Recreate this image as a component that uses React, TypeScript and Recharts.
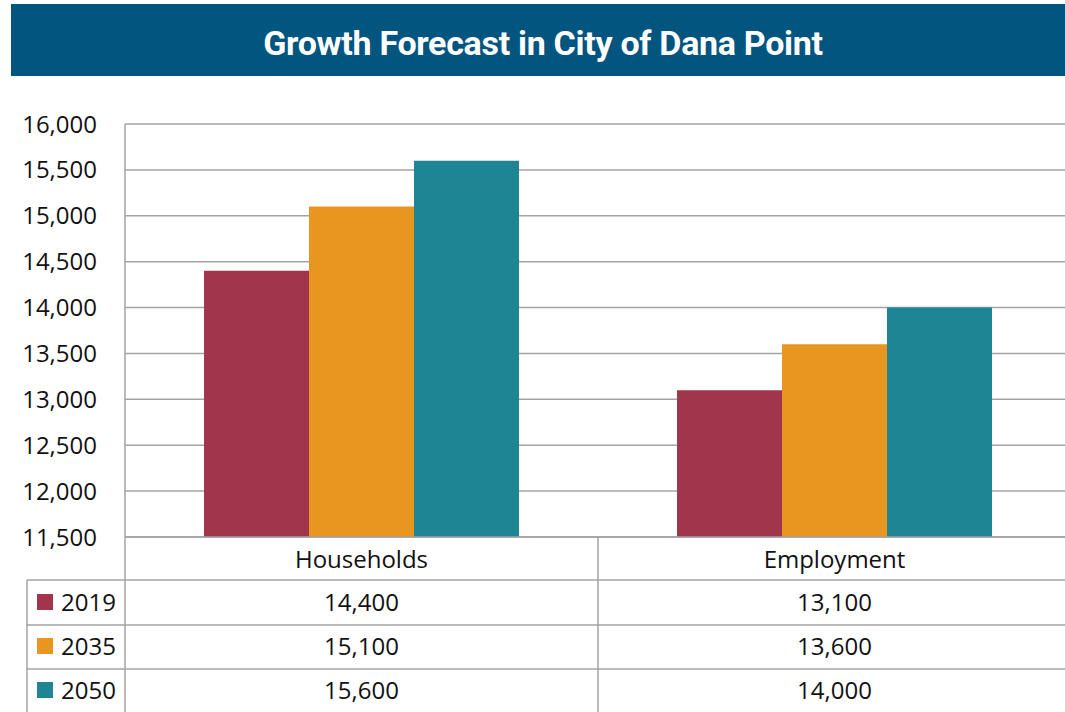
import { BarChart, Bar, XAxis, YAxis, CartesianGrid } from "recharts";

const categories = ["Households", "Employment"];
const years = ["2019", "2035", "2050"];
const values2019 = [14400, 13100];
const values2035 = [15100, 13600];
const values2050 = [15600, 14000];
const yTicks = [11500, 12000, 12500, 13000, 13500, 14000, 14500, 15000, 15500, 16000];

const colors = ["#a1354c", "#e8961f", "#1e8595"];
const seriesValues = [values2019, values2035, values2050];

const data = categories.map((name, i) => ({
  name,
  y2019: values2019[i],
  y2035: values2035[i],
  y2050: values2050[i],
}));

const CHART_W = 1071;
const CHART_H = 712;
const PLOT_LEFT = 125;
const PLOT_TOP = 124;
const PLOT_BOTTOM = 537;
const COL_W = (CHART_W - PLOT_LEFT) / categories.length;
const ROW_LINES = [580, 625, 669];
const ROW_CENTERS = [602, 646, 690];
const LINE = "#a3a3a3";
const FONT = "'Open Sans', sans-serif";

const fmt = (v: number) => v.toLocaleString("en-US");

function TableTick(props: any) {
  const { x, index, payload } = props;
  const left = x - COL_W / 2;
  const right = x + COL_W / 2;
  return (
    <g>
      {index === 0 && (
        <g>
          <line x1={PLOT_LEFT} y1={PLOT_BOTTOM} x2={PLOT_LEFT} y2={CHART_H} stroke={LINE} strokeWidth={1.5} />
          <line x1={27} y1={ROW_LINES[0]} x2={27} y2={CHART_H} stroke={LINE} strokeWidth={1.5} />
          {ROW_LINES.map((y) => (
            <line key={y} x1={27} y1={y} x2={PLOT_LEFT} y2={y} stroke={LINE} strokeWidth={1.5} />
          ))}
          {years.map((yr, r) => (
            <g key={yr}>
              <rect x={37} y={ROW_CENTERS[r] - 8} width={16} height={16} fill={colors[r]} />
              <text x={61} y={ROW_CENTERS[r] + 8.5} fontSize={24} fontFamily={FONT} fill="#111">
                {yr}
              </text>
            </g>
          ))}
        </g>
      )}
      <line x1={right} y1={PLOT_BOTTOM} x2={right} y2={CHART_H} stroke={LINE} strokeWidth={1.5} />
      {ROW_LINES.map((y) => (
        <line key={y} x1={left} y1={y} x2={right} y2={y} stroke={LINE} strokeWidth={1.5} />
      ))}
      <text x={x} y={559 + 8.5} textAnchor="middle" fontSize={24} fontFamily={FONT} fill="#111">
        {payload.value}
      </text>
      {seriesValues.map((vals, r) => (
        <text key={r} x={x} y={ROW_CENTERS[r] + 8.5} textAnchor="middle" fontSize={24} fontFamily={FONT} fill="#111">
          {fmt(vals[index])}
        </text>
      ))}
    </g>
  );
}

export default function App() {
  return (
    <div style={{ position: "absolute", left: 0, top: 0, width: 1065, height: 712, overflow: "hidden", background: "#fff" }}>
      <div
        style={{
          position: "absolute",
          left: 11,
          top: 4,
          width: 1054,
          height: 72,
          background: "#02557f",
          color: "#fff",
          fontFamily: "Roboto, sans-serif",
          fontWeight: 700,
          fontSize: 34,
          letterSpacing: -0.3,
          lineHeight: "72px",
          textAlign: "center",
        }}
      >
        <span style={{ position: "relative", top: 3, left: 5 }}>Growth Forecast in City of Dana Point</span>
      </div>
      <div style={{ position: "absolute", left: 0, top: 0 }}>
        <BarChart
          width={CHART_W}
          height={CHART_H}
          data={data}
          margin={{ top: PLOT_TOP, right: 0, bottom: 0, left: 0 }}
          barCategoryGap={79}
          barGap={0}
        >
          <CartesianGrid vertical={false} stroke={LINE} strokeWidth={1.5} />
          <XAxis
            dataKey="name"
            height={CHART_H - PLOT_BOTTOM}
            axisLine={{ stroke: LINE, strokeWidth: 1.5 }}
            tickLine={false}
            tickSize={0}
            interval={0}
            tick={<TableTick />}
          />
          <YAxis
            width={PLOT_LEFT}
            domain={[11500, 16000]}
            ticks={yTicks}
            allowDataOverflow
            axisLine={{ stroke: LINE, strokeWidth: 1.5 }}
            tickLine={false}
            tickSize={0}
            tickMargin={28}
            tickFormatter={fmt}
            tick={{ fontSize: 24, fontFamily: FONT, fill: "#111" }}
          />
          <Bar dataKey="y2019" fill={colors[0]} isAnimationActive={false} />
          <Bar dataKey="y2035" fill={colors[1]} isAnimationActive={false} />
          <Bar dataKey="y2050" fill={colors[2]} isAnimationActive={false} />
        </BarChart>
      </div>
    </div>
  );
}
